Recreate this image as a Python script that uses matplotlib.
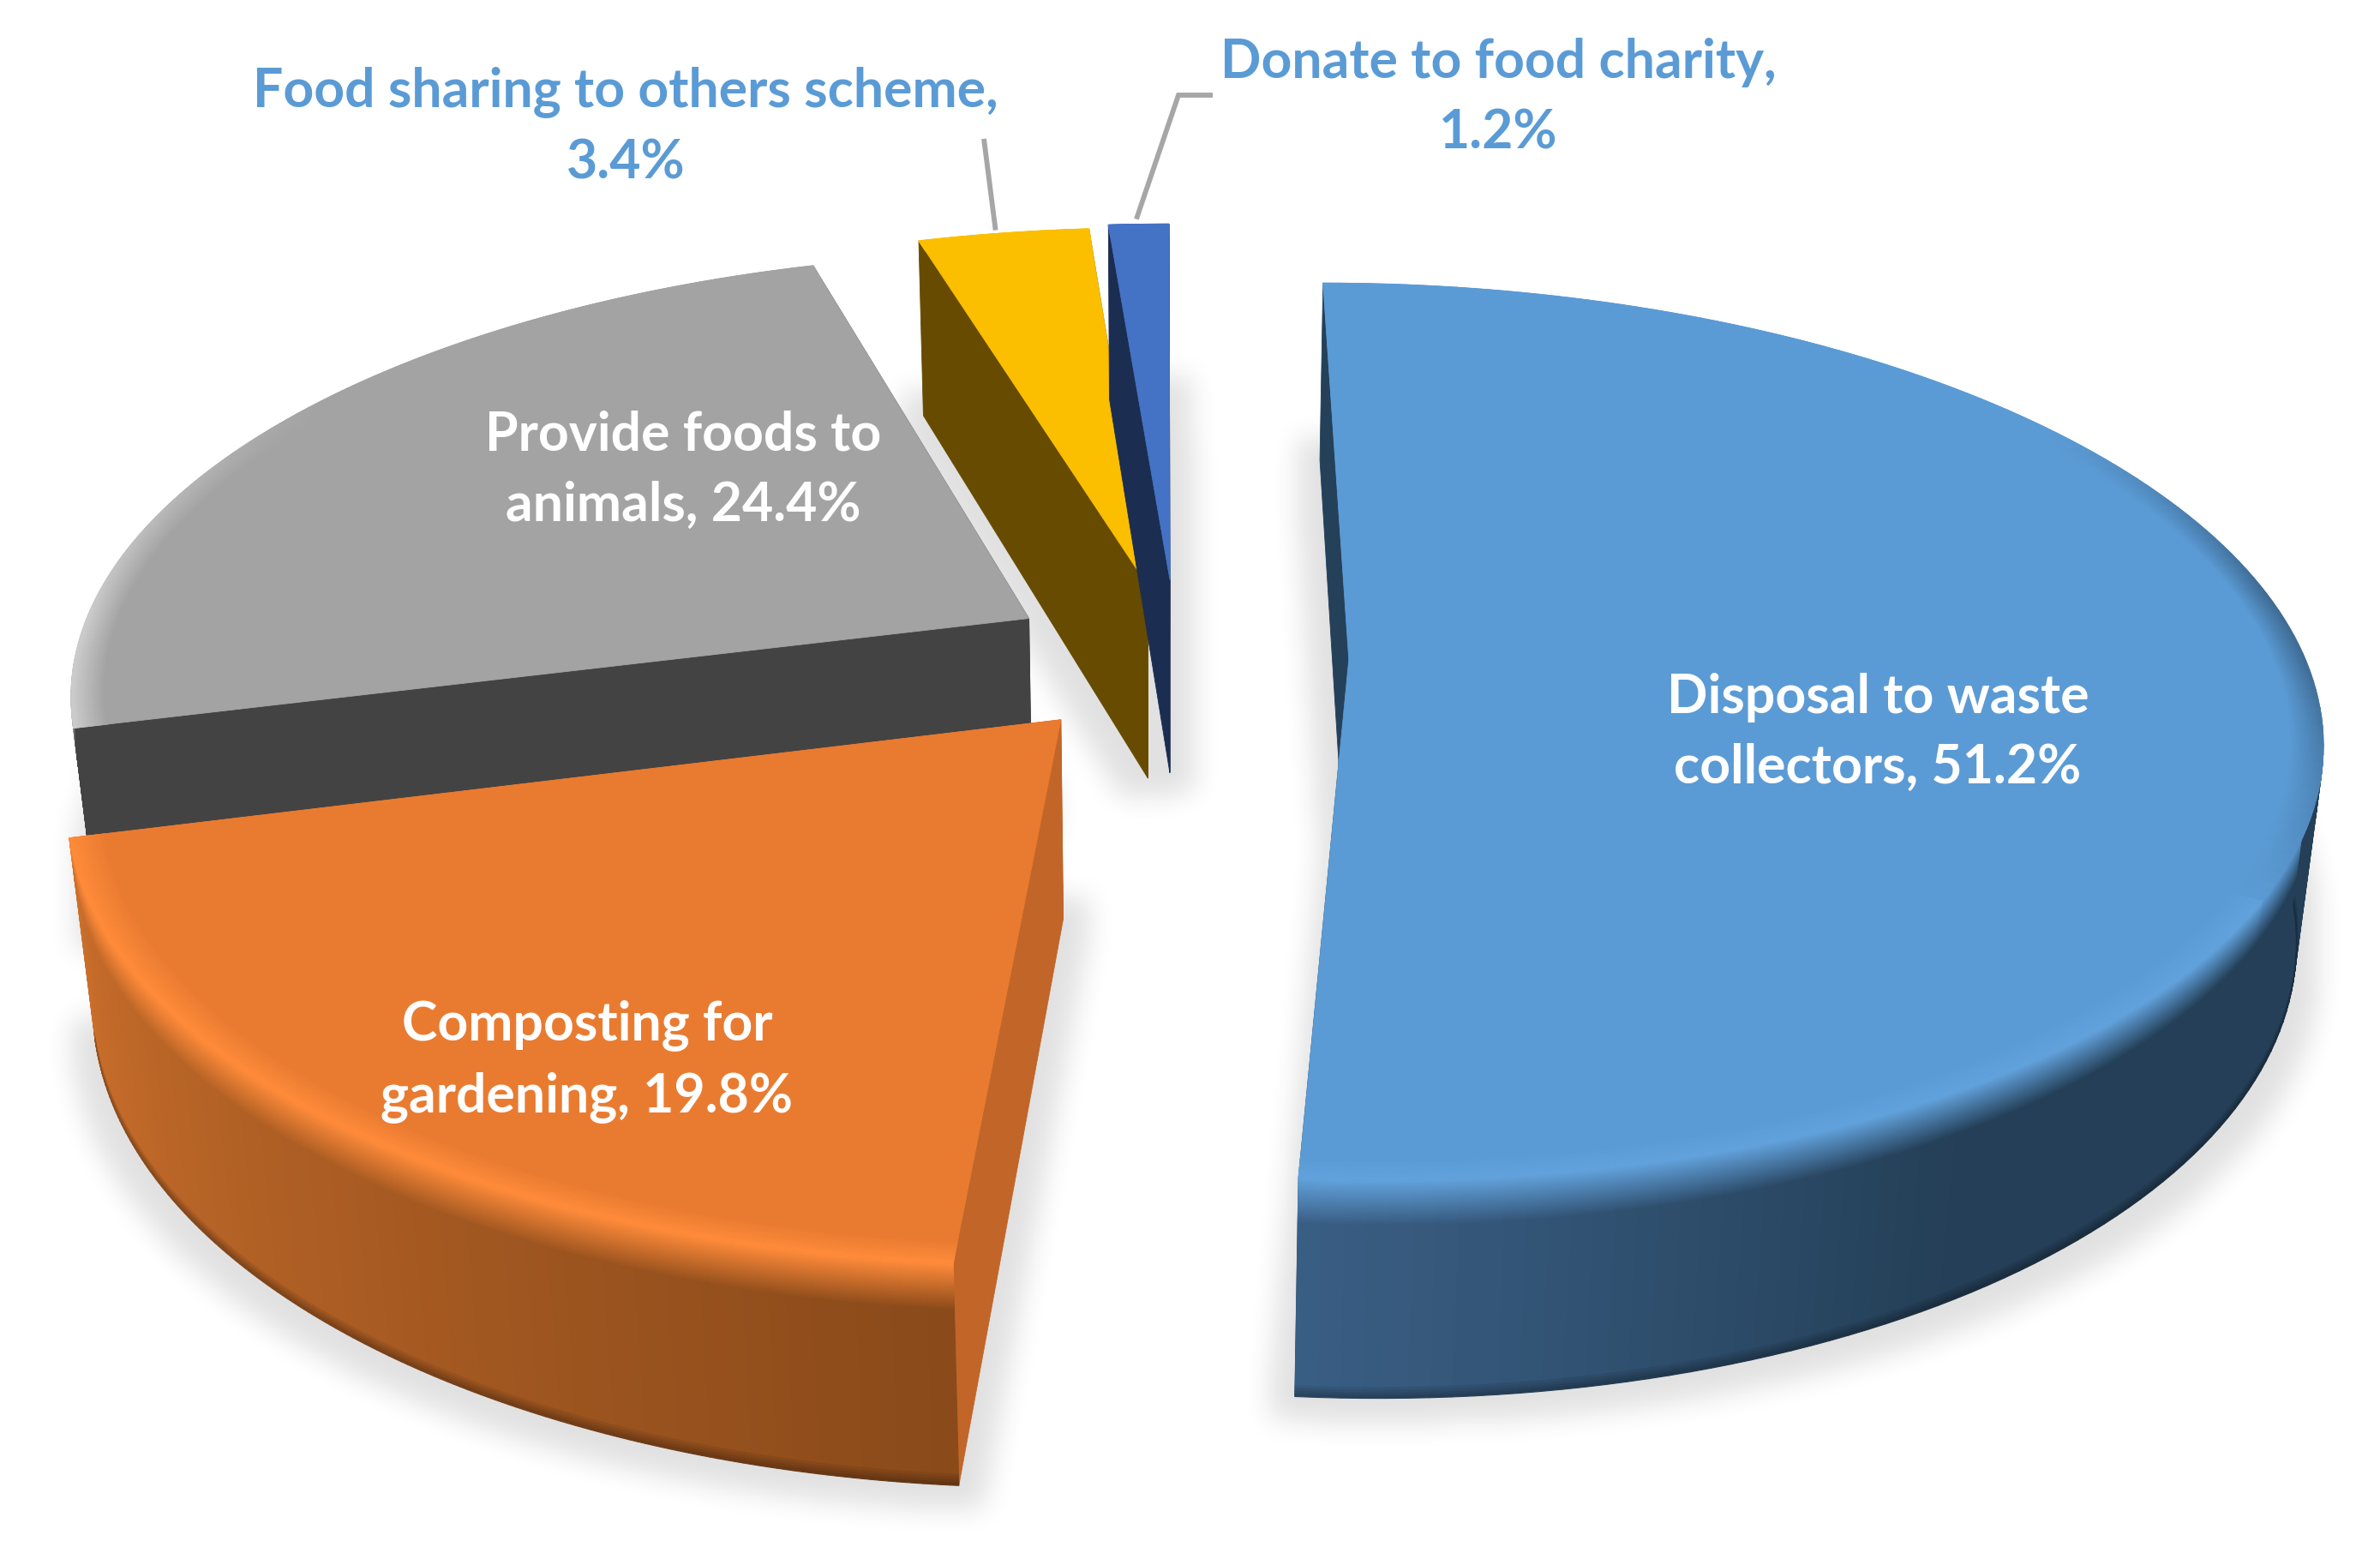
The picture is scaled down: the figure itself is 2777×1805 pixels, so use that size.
import numpy as np
import matplotlib
matplotlib.use('Agg')
import matplotlib.pyplot as plt
from matplotlib.collections import PolyCollection
from matplotlib.colors import to_rgb
from matplotlib.path import Path

# Data, clockwise from 12 o'clock
categories = ['Disposal to waste\ncollectors, 51.2%', 'Composting for\ngardening, 19.8%',
              'Provide foods to\nanimals, 24.4%', 'Food sharing to others scheme,\n3.4%',
              'Donate to food charity,\n1.2%']
values = [51.2, 19.8, 24.4, 3.4, 1.2]
explode = [0.18, 0.185, 0.18, 0.17, 0.18]
top_colors = ['#5B9BD5', '#E97B31', '#A3A3A3', '#FBBF00', '#4472C4']
cut_colors = ['#254059', '#C26528', '#434343', '#664B00', '#1B2D50']
glow_colors = ['#62A2DC', '#FF8B3A', '#CBCBCB', '#FBBF00', '#4472C4']
rim_near = ['#3A5F85', '#8A4A1A', '#434343', '#664B00', '#1B2D50']   # at low angle end of the gradient
rim_far = ['#243F57', '#CB6F2C', '#434343', '#664B00', '#1B2D50']
rim_dark = [0.72, 0.72, 1.0, 1.0, 1.0]   # darker line along the bottom of the rim
label_colors = ['white', 'white', 'white', '#5B9BD5', '#5B9BD5']
label_x = [2191, 685, 797, 730, 1748]
label_y = [855, 1238, 549, 148, 114]

# camera set up (pixels of the final picture)
CX, VX, CY = 1373, 1356, 767
R = 1115
SIN_T, COS_T = 0.456, 0.89
K_Y, K_Z = 0.16, 0.0975
H = 0.236


def project(x, y, z):
    w = 1 + K_Y * y - K_Z * z
    return VX + (CX - VX + R * x) / w, CY - R * (y * SIN_T + z * COS_T) / w


def arc(a0, a1, off_x, off_y, r, z, n=120):
    a = np.radians(np.linspace(a0, a1, n))
    return project(off_x + r * np.sin(a), off_y + r * np.cos(a), z + 0 * a)


def mix(c0, c1, t):
    return tuple((1 - t) * p + t * q for p, q in zip(to_rgb(c0), to_rgb(c1)))


def blur(m, r):
    for axis in (0, 1):
        c = np.cumsum(np.insert(m, 0, 0, axis=axis), axis=axis)
        n = m.shape[axis]
        hi = np.clip(np.arange(n) + r + 1, 0, n)
        lo = np.clip(np.arange(n) - r, 0, n)
        m = (np.take(c, hi, axis=axis) - np.take(c, lo, axis=axis)) / (2 * r + 1)
    return m


def ribbon(ax, a, off_x, off_y, prof, colors, z):
    # ring between consecutive (radius, height) steps, coloured per step
    polys, cols = [], []
    for j in range(len(prof) - 1):
        r0, z0 = prof[j]
        r1, z1 = prof[j + 1]
        x0, y0 = arc(a[0], a[-1], off_x, off_y, r0, z0, len(a))
        x1, y1 = arc(a[0], a[-1], off_x, off_y, r1, z1, len(a))
        for i in range(len(a) - 1):
            polys.append([(x0[i], y0[i]), (x0[i + 1], y0[i + 1]), (x1[i + 1], y1[i + 1]), (x1[i], y1[i])])
            cols.append(colors(j / max(1, len(prof) - 2), a[i]))
    ax.add_collection(PolyCollection(polys, facecolors=cols, edgecolors=cols, linewidths=0.8, zorder=z))


fig = plt.figure(figsize=(27.77, 18.06), dpi=100)
ax = fig.add_axes([0, 0, 1, 1])
ax.set_xlim(0, 2777)
ax.set_ylim(1806, 0)
ax.axis('off')

# slice geometry from the values
edges = np.concatenate([[0], np.cumsum(values)]) * 3.6
slices = []
for i in range(len(values)):
    a0, a1 = edges[i], edges[i + 1]
    mid = np.radians((a0 + a1) / 2)
    slices.append((a0, a1, explode[i] * np.sin(mid), explode[i] * np.cos(mid)))

# soft shadow under the slices
gx, gy = np.meshgrid(np.arange(0, 2777, 4), np.arange(0, 1806, 4))
pts = np.column_stack([gx.ravel(), gy.ravel()])
mask = np.zeros(gx.shape)
for a0, a1, ox, oy in slices:
    bx, by = arc(a0, a1, ox, oy, 1.0, -H)
    ax0, ay0 = project(ox, oy, -H)
    verts = np.column_stack([np.append(bx, ax0), np.append(by, ay0)])
    mask = np.maximum(mask, Path(verts).contains_points(pts).reshape(gx.shape))
soft = blur(blur((blur(mask, 7) > 0).astype(float), 4), 4)
rgba = np.zeros(gx.shape + (4,))
rgba[..., 3] = soft * 0.12
ax.imshow(rgba, extent=(0, 2777, 1806, 0), interpolation='bilinear', aspect='auto', zorder=0)
ax.set_xlim(0, 2777)
ax.set_ylim(1806, 0)

# far slices first, orange last because it hides the grey wall
order = [2, 3, 4, 0, 1]
z = 1
for i in order:
    a0, a1, ox, oy = slices[i]
    a = np.linspace(a0, a1, 160)
    # the two cut faces
    for edge in (a0, a1):
        tx, ty = arc(edge, edge, ox, oy, 1.0, 0, 2)
        ux, uy = arc(edge, edge, ox, oy, 1.0, -H, 2)
        px, py = project(ox, oy, 0)
        qx, qy = project(ox, oy, -H)
        ax.fill([px, tx[0], ux[0], qx], [py, ty[0], uy[0], qy], color=cut_colors[i], lw=0.6, zorder=z)
    z += 1

    # outer wall colour along the arc, by angle
    def wall(ang, i=i):
        s = (ang - a0) / (a1 - a0)
        if i == 0:
            return mix(rim_far[i], rim_near[i], max(0, (s - 0.8) / 0.2))
        return mix(rim_near[i], rim_far[i], s)

    # edge colour on the bevel, fades out on the back of the slice
    def glow(ang, i=i):
        if i == 0 and ang < 120:
            return mix(top_colors[i], wall(ang), 0.5 * np.clip((120 - ang) / 30, 0, 1) * np.clip((ang - 55) / 25, 0, 1))
        return mix(glow_colors[i], top_colors[i], np.clip(np.cos(np.radians(ang)) * 1.8, 0, 1))

    # only the front of the rim can be seen
    front = a[(a > 96) & (a < 264)]
    if len(front) > 2:
        steps = [(1.0, v) for v in np.linspace(0, -0.05, 24)]
        ribbon(ax, front, ox, oy, steps, lambda t, s: mix(glow(s), wall(s), t), z)
        ribbon(ax, front, ox, oy, [(1.0, -0.05), (1.0, -H + 0.012)] + [(1.0, v) for v in np.linspace(-H + 0.012, -H, 5)],
               lambda t, s: mix(wall(s), tuple(c * rim_dark[i] for c in wall(s)), max(0, t * 1.2 - 0.2)), z)
    z += 1
    # top face
    tx, ty = arc(a0, a1, ox, oy, 1.0, 0)
    px, py = project(ox, oy, 0)
    ax.fill(np.append(tx, px), np.append(ty, py), color=top_colors[i], lw=0.6, zorder=z)
    z += 1
    # upper half of the bevel lies on the top face
    ribbon(ax, a, ox, oy, [(v, 0) for v in np.linspace(0.965, 1.0, 14)],
           lambda t, s: mix(top_colors[i], glow(s), t), z)
    z += 1

# leader lines for the two small slices
yx, yy = arc(349.0, 349.0, slices[3][2], slices[3][3], 1.0, 0, 2)
ax.plot([yx[0], 1148], [yy[0] - 4, 163], color='#A6A6A6', lw=4.2, zorder=z, solid_capstyle='butt')
dx, dy = arc(357.8, 357.8, slices[4][2], slices[4][3], 1.0, 0, 2)
ax.plot([dx[0] - 2, 1375, 1415], [dy[0] - 6, 112, 112], color='#A6A6A6', lw=4.2, zorder=z,
        solid_capstyle='butt', solid_joinstyle='miter')

for i, label in enumerate(categories):
    ax.text(label_x[i], label_y[i], label, color=label_colors[i], fontsize=45, fontweight='bold',
            family='Lato', ha='center', va='center', linespacing=1.52, zorder=z + 1)

fig.savefig('out.png', dpi=100, facecolor='white')
